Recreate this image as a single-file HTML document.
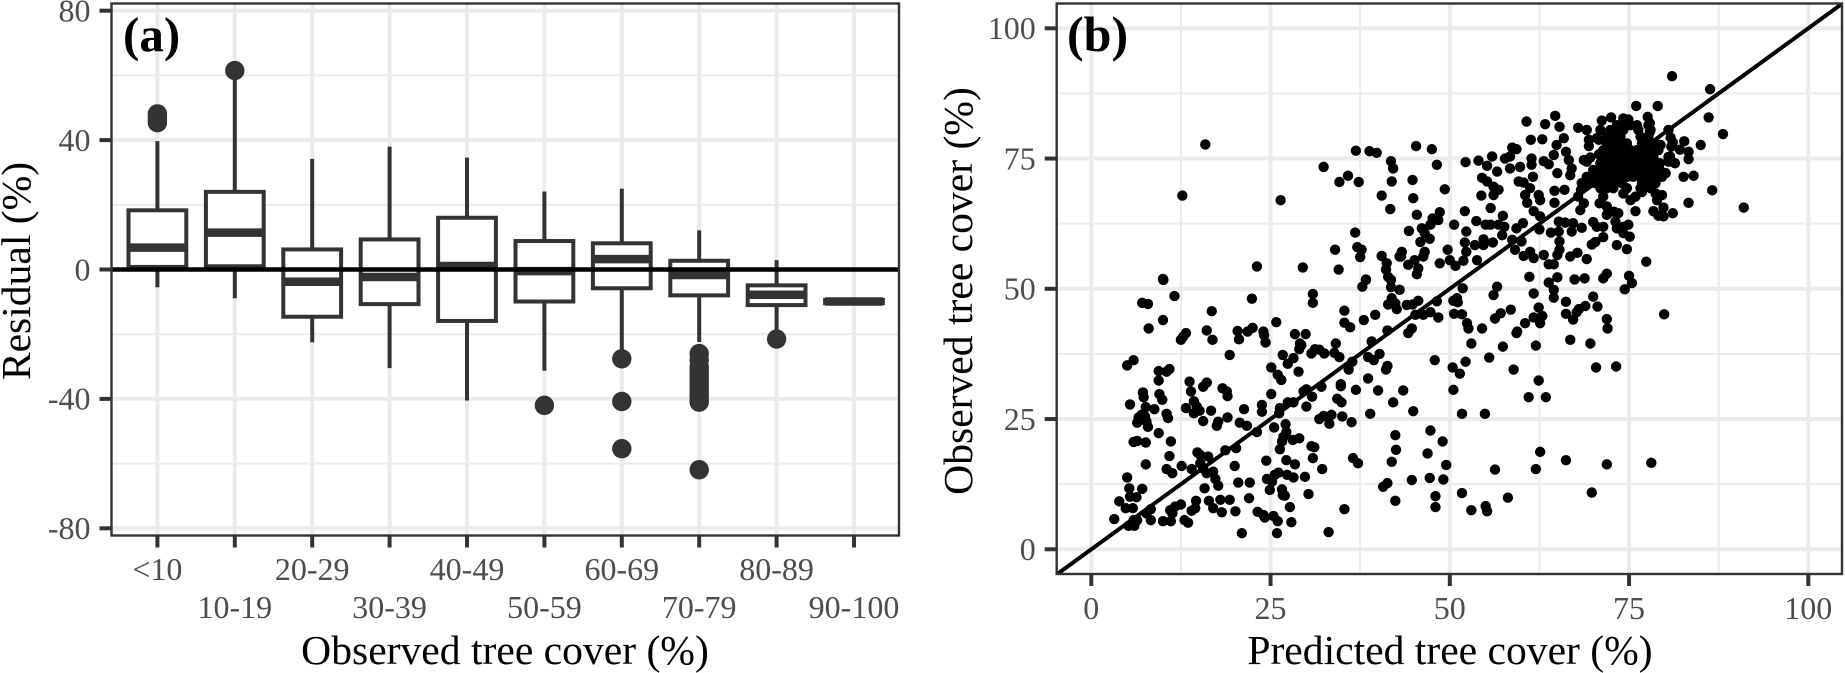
<!DOCTYPE html>
<html>
<head>
<meta charset="utf-8">
<title>Tree cover residuals and predicted vs observed</title>
<style>
html,body{margin:0;padding:0;background:#fff;width:1845px;height:673px;overflow:hidden}
svg{display:block}
text{font-family:"Liberation Serif","DejaVu Serif",serif}
</style>
</head>
<body>
<svg id="figure" width="1845" height="673" viewBox="0 0 1845 673" xmlns="http://www.w3.org/2000/svg">
<defs>
<clipPath id="clip-a"><rect x="111.5" y="3.5" width="787.5" height="532"/></clipPath>
<clipPath id="clip-b"><rect x="1056.7" y="3.5" width="785.3" height="570.5"/></clipPath>
</defs>
<rect x="0" y="0" width="1845" height="673" fill="#fff"/>
<g id="panel-a"></g>
<g id="panel-b"></g>
</svg>
<script>
// ---------- panel (a) data ----------
const categories = ["<10","10-19","20-29","30-39","40-49","50-59","60-69","70-79","80-89","90-100"];
const whiskerLow = [-5.5,-8.9,-22.5,-30.5,-40.5,-31.3,-24.8,-22.4,-18.8,-10.1];
const quartile1 = [0.8,1,-14.6,-10.7,-15.9,-9.9,-5.8,-8,-11,-10.4];
const medians = [6.75,11.4,-3.8,-2.3,1.1,-0.5,3.2,-1.7,-7.8,-9.9];
const quartile3 = [18.3,24,6.2,9.3,16,8.8,8.1,2.7,-4.9,-9.4];
const whiskerHigh = [39.7,60,34.2,38,34.6,24.1,25,12.1,2.9,-9.7];
const outliers = [[48.1,47.2,46.3,45.4],[61.5],[],[],[],[-42],[-27.6,-40.8,-55.4],[-26,-28,-30,-31,-32,-33,-34,-35,-36,-37,-38,-39,-40,-41,-61.9],[-21.5],[]];
const residualTicks = [-80,-40,0,40,80];
const residualMinorTicks = [-60,-20,20,60];

// ---------- panel (b) data ----------
const coverTicks = [0,25,50,75,100];
const coverMinorTicks = [12.5,37.5,62.5,87.5];
const predicted = [
10.05,7.1,7.9,11.6,10,8,16.8,22.4,30.9,30.9,35.3,38,39.6,37.8,38.3,41.8,41.8,43,41.9,41.4,
42.4,42.6,35.3,36.1,41.3,39.1,13.2,12.8,12.5,16.1,16.9,20.4,20.6,21.8,22.5,24,24.1,24.3,25.8,28.4,
29.9,29.1,29.3,29,19.3,26.7,28.2,27.4,30.7,31.2,31.8,32.5,33.9,34.1,34.6,36.4,35.9,38.6,39.4,40.2,
41.3,41.1,5,5.9,9.4,10.9,10.5,9.4,7.2,7.3,9.5,9.9,5.4,7.6,8.8,6.6,7,7.5,6.4,7.7,
7.9,10.5,10.7,9.4,5.9,6.4,7.6,11.1,10.9,7.6,10.5,11.3,5,5.3,7.1,5.4,6.3,3.9,4.8,5.8,
3.2,5.2,6,5.9,6.4,7.7,8.3,8.3,10,11.1,11,11.7,12.5,11.3,13,13.5,14,14.6,14.5,12.6,
14,13.7,13.9,15.6,16.1,18.3,19,18.9,14.3,13.2,14.3,15.1,14.7,15.6,16.7,17.7,17.5,19,21.3,20.7,
21.7,23.1,23.8,23.8,25.1,25.1,26,26.5,28.9,26.3,26.2,27.4,28.2,29.6,30,30.8,32.1,30,34.8,34.8,
36.9,38.6,40,34.3,34.9,42.1,31.8,32.4,33.2,33.5,35,36.3,38.9,25.5,27.1,27.2,26.8,26.6,26.3,28.1,
29,30.7,31.1,30.9,32.2,27.2,28.4,24.4,24.5,25.2,25.6,26.1,24.9,27.3,28.2,29.8,26.6,26.7,27,30.3,
27.7,27.9,25.9,26,25.4,24.2,24,23.2,21,20.1,22,22.1,20.5,20,20.2,18.7,14.8,15.2,16.3,15.2,
15.6,17,16.1,17.3,17.7,15.8,16.4,17,18,19.3,18.2,33.1,35.3,36.5,37.2,42.4,42.5,41.9,41.3,40.7,
42.4,
79.9,74.4,75.4,70,70.6,68.9,68,67.7,66.2,66.2,67.2,64.5,64.5,63.8,61.7,62.4,61.7,62.9,62.6,60.5,
58.5,57.1,56.3,56.1,56.6,54.5,52.6,52.4,51.7,50.6,51.1,50.5,51,51.8,48.4,47.3,46.3,45.2,48.2,45.6,
44.8,44,44.7,44.2,53,59.4,59.3,57.4,62,66.8,69.6,71.9,72,70.4,73.2,47.9,52.2,50.4,51.4,55.5,
58.9,62.4,61,63.4,50.5,43.5,44.9,51.7,54.9,47.3,49,46.9,49.5,47.2,49.1,44.7,48,48,51.7,53,
55,55.2,58.1,56.3,62.6,62,66.2,71.9,78.1,69.8,
15.9,12.7,26.4,32.4,34.6,35.8,37.3,36.9,38.8,39.8,41.8,42.1,41.9,40.5,41.7,36.8,37.1,37.7,37.5,34,
34.5,23.1,29.5,10,40.5,41.2,41.1,41.4,38.3,43,
45.3,47.5,48.2,44.8,49.3,44.9,45.4,47.6,48.6,47.3,48.4,44.3,46.1,46.5,47.2,45.9,43.3,43.2,46.5,46.3,
45.1,44.2,45.6,45.4,48.6,49.7,50,50.8,51.9,52.3,52.1,52.3,50.6,52.1,53.7,53.8,53.5,54.7,54.7,56,
55,55.7,56.8,57.6,57.3,55.7,57.4,54.4,56.1,56.8,56.1,55.2,54.5,52.2,54,55.2,55.9,56.6,57.7,58.4,
58.7,59.3,58.4,59.8,61.4,61.6,61.4,63.1,63.8,64.5,64.9,65.9,60.7,61.3,62.9,63.3,64.7,65.3,66.2,66.6,
67,65,66.8,67.9,69.1,69.4,69.4,70.5,71.2,72.5,71,68.7,69.6,70.8,69.1,59.6,60.3,61.2,60.5,62.4,
62.6,60.8,64.6,66,64.6,61.7,62.6,59.3,60.2,62.5,58.7,60,59.1,60.3,61.2,61.7,63.1,65.2,64.1,65.2,
65.3,65.3,65,63.8,64.5,66.8,67.8,69.1,61.1,65,67.4,68.8,71.9,71.4,75,77.4,74.7,73.3,71.4,70.3,
69.8,66.1,67.2,67,68.4,70,71.4,70.5,73.1,73.3,74.2,74.9,75.1,74.2,72.9,71.9,73.5,75.9,78.4,79.1,
79.8,79.8,81.1,83.3,86.6,91,81,86.3,86.1,88.1,85,76,79,77.6,82.7,83.3,83.3,82.6,84,81.1,
82.1,81.4,80.5,80.7,80.1,68.2,67.9,68.7,68.3,70.9,71.4,71.9,74.2,75.2,75.9,76.8,78.7,79.6,78.9,
73.3,74.2,75.2,76.1,77.7,
72.4,73.3,74.2,76.3,78,
71.9,72.8,73.8,76.6,77.7,
71.9,72.8,73.8,74.7,76.8,77.7,78.7,
71.4,72.4,73.3,74.2,75.2,76.1,77,78,79.1,
71.9,72.8,73.8,74.7,75.6,76.6,77.5,78.4,
71,71.9,72.8,73.8,74.7,75.6,76.6,77.5,78.4,79.3,
70,71,71.9,72.8,73.8,74.7,75.6,76.6,77.5,78.4,79.3,
69.1,70,71,71.9,72.8,73.8,74.7,75.6,76.6,77.5,78.4,79.6,
68.4,69.3,70.3,71.2,72.1,73,74,76.8,77.7,78.7,
71,71.9,72.8,74.7,76.6,78,
74.2,74.9,77.9,77.9,80.8,80.9,80.5,79.4,80.5,80.1,70.8,72.4
];
const observed = [
51.7,47.3,47.1,48.6,44,42.4,45.7,48.1,49,47.3,45.8,44,45,50.4,51.7,50.3,51.7,49.8,48.2,47,
47.2,46.1,43.5,42.6,42,39.9,41.5,40.8,40.2,42,40.2,41.9,40.3,41.8,42.5,41.8,41.1,39.7,43.6,41.3,
41.3,39.5,39.2,38.4,37.3,37.3,36.7,35.6,37.6,38.4,38.3,37.6,37.7,39.5,36.9,36,34.5,36.9,36.3,37.5,
35.2,34.5,35.3,36.3,34.2,34.6,34.1,32.4,30.1,29.2,29.8,28.7,27.8,27.3,26.9,25.3,25.8,25.5,24.3,24.5,
23.5,26,25.2,22.3,20.6,20.8,20.5,20.7,17.9,16.3,15.4,14.6,13.8,11.7,11.6,10.1,10,9.2,7.9,7.9,
5.8,4.5,4.5,5.6,5.6,6.9,7.7,5.6,5.4,5.4,7.5,8.2,8.6,6.9,5.6,5.1,7.4,9.3,7.9,16,
15.4,32.2,30.3,31.2,32,30.9,29.4,30.3,28.4,27.1,26.1,26.6,27.4,24.6,26.6,24.5,23.7,25.3,26.9,24.3,
23.7,22.5,27.7,26.4,29.8,34.9,33.5,32.5,34.1,27.1,26.1,28.2,28.2,30.3,30.7,29.3,31.2,27.4,31.7,31.3,
30.6,32.8,30.5,28.9,28.2,28.2,25,25.6,24.1,25.8,25.5,24.4,26,23.4,24,22.5,21.6,20.7,19.2,21,
21.3,19.8,19.6,17.5,15.4,17.1,16.3,17,13.5,13,14.3,14.7,11.4,14.3,13.8,13.9,11.5,10.4,10.3,10.6,
8.1,5.2,3.1,5.4,6.4,6.1,6.6,7.2,3.1,7.3,9.8,12.8,12.8,16,19.4,19,18.6,18.1,17.8,16.5,
15.5,14.9,14.6,13.5,12.2,11.7,9.3,7.9,9.5,9.5,7.1,3.3,7.7,17.5,16.5,21.9,19.1,16.8,12.7,12,
9.3,
45.1,49.9,51.1,48.5,46.6,46.7,46.1,45.5,47.5,45.2,44.1,49.8,48.3,51.2,49.1,46.4,44.5,44.8,43.4,43.4,
46,45.3,44.3,48.8,50.4,42.4,42.4,43.4,45.1,45.2,47.4,47.7,48.2,50.1,44.5,45.5,45,45,47.6,47.7,
47,46.9,42.4,41.5,39.5,41.8,41.5,38.9,39.1,40.2,39.5,44.2,42.4,34.9,35.1,36.3,36,34.9,33.7,36.8,
34.5,32.4,29.2,29.2,30.6,30.5,26.5,26,26,22.8,20.7,18.4,16.2,13.7,13.4,13.3,10.2,8.1,10.8,7.5,
8.3,7.3,9.9,15.3,18.7,15.4,17.1,16.3,16.6,10.9,
77.7,67.9,67,73.4,70.5,71.7,70.5,76.5,76.4,76.1,74.5,73.1,70.6,67.9,65.3,60.8,58,57.5,56.1,57.5,
53.7,54.3,54.1,51.9,56.3,54.9,53.7,52.3,51.8,56.2,
77.4,76.8,73.8,70.9,69.1,67.4,64.2,63.5,64.7,62.3,63.2,61.1,61.6,60.7,59.6,59,57.1,56.2,57.1,56.2,
55.5,54.6,53.9,52.8,54.9,57.5,55.5,54.4,55.4,61,58.9,57.1,62.3,64.9,63,55.5,58.4,59.5,58.4,58.9,
62.3,62.3,62.3,61.9,60.3,65.5,64,67.9,68,69,69.6,70.6,71.3,74.3,74.6,73.6,75.4,72.5,75,75.4,
77.1,76.8,73.1,73.4,75,71.5,73.8,74.5,73.9,75.7,77.6,78.9,82.1,78.6,78.7,81.6,83.2,81.1,76.3,74.7,
73.1,72.2,71.8,80.9,80.5,78.6,77.4,78.9,82.3,82.9,80.5,74.7,75.2,75.8,74.4,70.6,70.4,69.3,68,68,
67,66.5,68.8,69,66.5,64.9,63.9,61.6,62.6,61.4,59.4,59.1,57.5,56.3,57.1,55.9,56.5,62.9,60.8,61,
59.1,57.5,56.5,54.7,54.7,56.2,56.9,55.7,52.3,52.2,51.8,52,52.9,52,52.5,55.2,57.6,58.4,59.9,59,
58.5,62.7,62.6,61,61.7,62.8,61.9,61.9,62.9,61.6,61.9,62.3,60,60.7,64.8,64.2,64.5,64.9,64.9,64,
63.9,65.6,64.5,66.5,68.9,65.6,90.8,88.3,82.9,79.7,77.6,85.1,85.1,83,78.3,76.3,74.9,71.5,71.7,78.1,
76.7,74.1,80.5,75.4,72.2,65.1,67.7,66.4,69,66.4,67.7,65.8,68.3,67,67.7,68.6,68.3,68,67,
81.4,81.4,81.4,81.4,81.4,
80.5,80.5,80.5,80.5,80.5,
79.2,79.2,79.2,79.2,79.2,
77.9,77.9,77.9,77.9,77.9,77.9,77.9,
76.6,76.6,76.6,76.6,76.6,76.6,76.6,76.6,76.6,
75.4,75.4,75.4,75.4,75.4,75.4,75.4,75.4,
74.1,74.1,74.1,74.1,74.1,74.1,74.1,74.1,74.1,74.1,
72.8,72.8,72.8,72.8,72.8,72.8,72.8,72.8,72.8,72.8,72.8,
71.5,71.5,71.5,71.5,71.5,71.5,71.5,71.5,71.5,71.5,71.5,71.5,
70.3,70.3,70.3,70.3,70.3,70.3,70.3,70.3,70.3,70.3,
69.3,69.3,69.3,69.3,69.3,69.3,
82.7,82.5,81.8,80.1,79,77.3,75.3,77.6,74.4,72.2,78.6,79.9
];

const SVG_NS = "http://www.w3.org/2000/svg";
const panelA = document.getElementById("panel-a");
const panelB = document.getElementById("panel-b");

// axis functions
function xA(i){ return 157.4 + i * 77.4; }
function yA(v){ return 269.5 - v * 3.235; }
function xB(v){ return 1091.3 + v * 7.17; }
function yB(v){ return 549.3 - v * 5.21; }

function line(parent, x1, y1, x2, y2, color, width){
  const el = document.createElementNS(SVG_NS, "line");
  el.setAttribute("x1", x1);
  el.setAttribute("y1", y1);
  el.setAttribute("x2", x2);
  el.setAttribute("y2", y2);
  el.setAttribute("stroke", color);
  el.setAttribute("stroke-width", width);
  parent.appendChild(el);
  return el;
}
function label(parent, x, y, str, size, color, anchor, weight, rotate){
  const el = document.createElementNS(SVG_NS, "text");
  el.setAttribute("x", x);
  el.setAttribute("y", y);
  el.setAttribute("font-size", size);
  el.setAttribute("fill", color);
  el.setAttribute("text-anchor", anchor);
  if (weight) el.setAttribute("font-weight", weight);
  if (rotate) el.setAttribute("transform", "rotate(-90 " + x + " " + y + ")");
  el.textContent = str;
  parent.appendChild(el);
  return el;
}
function dot(parent, cx, cy, r, color){
  const el = document.createElementNS(SVG_NS, "circle");
  el.setAttribute("cx", cx);
  el.setAttribute("cy", cy);
  el.setAttribute("r", r);
  el.setAttribute("fill", color);
  parent.appendChild(el);
  return el;
}
function group(parent, clip){
  const g = document.createElementNS(SVG_NS, "g");
  if (clip) g.setAttribute("clip-path", "url(#" + clip + ")");
  parent.appendChild(g);
  return g;
}

const GRID = "#ebebeb", DARK = "#333333", TICKTXT = "#4d4d4d";
const aL = 111.5, aR = 899, aT = 3.5, aB = 535.5;
const bL = 1056.7, bR = 1842, bT = 3.5, bB = 574;

// ---------- panel (a) ----------
const gridA = group(panelA, "clip-a");


residualMinorTicks.forEach(function(v){
  const l = line(gridA, aL, yA(v), aR, yA(v), GRID, 2);
  
  
});
residualTicks.forEach(function(v){
  const l = line(gridA, aL, yA(v), aR, yA(v), GRID, 4);
  
  
});
categories.forEach(function(c, i){
  const l = line(gridA, xA(i), aT, xA(i), aB, GRID, 4);
  
  
});

const boxes = group(panelA, "clip-a");


const halfBox = 28.9;
categories.forEach(function(c, i){
  const x = xA(i);
  const b = group(boxes);
  
  
  const upper = line(b, x, yA(quartile3[i]), x, yA(whiskerHigh[i]), DARK, 4);
  
  
  const lower = line(b, x, yA(quartile1[i]), x, yA(whiskerLow[i]), DARK, 4);
  
  
  const r = document.createElementNS(SVG_NS, "rect");
  r.setAttribute("x", x - halfBox);
  r.setAttribute("y", yA(quartile3[i]));
  r.setAttribute("width", halfBox * 2);
  r.setAttribute("height", yA(quartile1[i]) - yA(quartile3[i]));
  r.setAttribute("fill", "#fff");
  r.setAttribute("stroke", DARK);
  r.setAttribute("stroke-width", 4);
  
  
  b.appendChild(r);
  const m = line(b, x - halfBox, yA(medians[i]), x + halfBox, yA(medians[i]), DARK, 8.5);
  
  
  outliers[i].forEach(function(v){
    const o = dot(b, x, yA(v), 9.7, DARK);
    
    
  });
});
const zeroLine = line(panelA, aL, yA(0), aR, yA(0), "#000", 4.6);



const borderA = document.createElementNS(SVG_NS, "rect");
borderA.setAttribute("x", aL);
borderA.setAttribute("y", aT);
borderA.setAttribute("width", aR - aL);
borderA.setAttribute("height", aB - aT);
borderA.setAttribute("fill", "none");
borderA.setAttribute("stroke", DARK);
borderA.setAttribute("stroke-width", 2.4);


panelA.appendChild(borderA);

residualTicks.forEach(function(v){
  const t = line(panelA, aL - 12, yA(v), aL, yA(v), DARK, 4);
  
  
  const l = label(panelA, aL - 21, yA(v) + 10.8, String(v), 32, TICKTXT, "end");
  
  
});
categories.forEach(function(c, i){
  const t = line(panelA, xA(i), aB, xA(i), aB + 12, DARK, 4);
  
  
  const l = label(panelA, xA(i), i % 2 === 0 ? 580 : 618, c, 32, TICKTXT, "middle");
  
  
});
const titleAx = label(panelA, 505, 664, "Observed tree cover (%)", 41.6, "#000", "middle");


const titleAy = label(panelA, 30, 271, "Residual (%)", 41.6, "#000", "middle", null, true);


const tagA = label(panelA, 123, 51, "(a)", 49, "#000", "start", "bold");



// ---------- panel (b) ----------
const gridB = group(panelB, "clip-b");


coverMinorTicks.forEach(function(v){
  const h = line(gridB, bL, yB(v), bR, yB(v), GRID, 2);
  
  
  const w = line(gridB, xB(v), bT, xB(v), bB, GRID, 2);
  
  
});
coverTicks.forEach(function(v){
  const h = line(gridB, bL, yB(v), bR, yB(v), GRID, 4);
  
  
  const w = line(gridB, xB(v), bT, xB(v), bB, GRID, 4);
  
  
});
const marks = group(panelB, "clip-b");


predicted.forEach(function(p, i){
  const d = dot(marks, xB(p), yB(observed[i]), 5.2, "#000");
  
  
});
const oneToOne = group(panelB, "clip-b");
const diagonal = line(oneToOne, xB(-10), yB(-10), xB(110), yB(110), "#000", 4);



const borderB = document.createElementNS(SVG_NS, "rect");
borderB.setAttribute("x", bL);
borderB.setAttribute("y", bT);
borderB.setAttribute("width", bR - bL);
borderB.setAttribute("height", bB - bT);
borderB.setAttribute("fill", "none");
borderB.setAttribute("stroke", DARK);
borderB.setAttribute("stroke-width", 2.4);


panelB.appendChild(borderB);

coverTicks.forEach(function(v){
  const ty = line(panelB, bL - 12, yB(v), bL, yB(v), DARK, 4);
  
  
  const ly = label(panelB, bL - 21, yB(v) + 10.8, String(v), 32, TICKTXT, "end");
  
  
  const tx = line(panelB, xB(v), bB, xB(v), bB + 12, DARK, 4);
  
  
  const lx = label(panelB, xB(v), 619, String(v), 32, TICKTXT, "middle");
  
  
});
const titleBx = label(panelB, 1450, 664, "Predicted tree cover (%)", 41.6, "#000", "middle");


const titleBy = label(panelB, 972, 291, "Observed tree cover (%)", 41.6, "#000", "middle", null, true);


const tagB = label(panelB, 1067, 51, "(b)", 50, "#000", "start", "bold");


</script>
</body>
</html>
